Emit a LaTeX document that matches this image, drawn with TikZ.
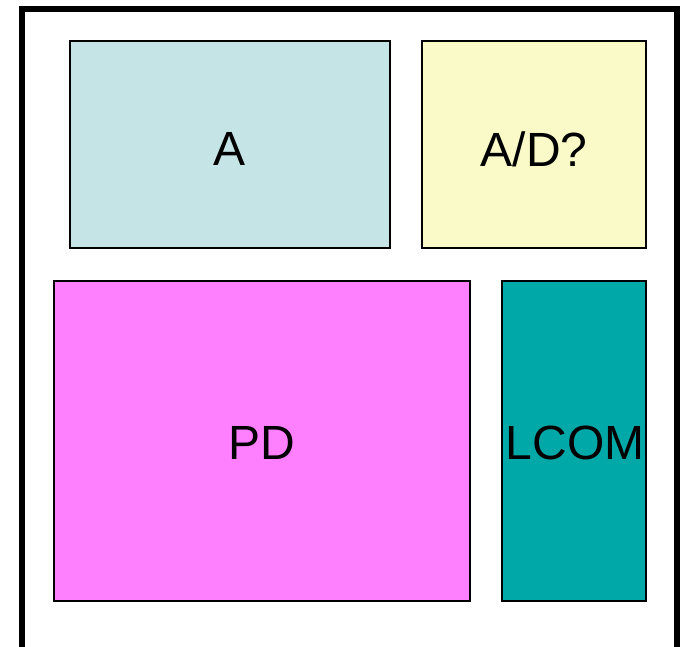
\documentclass[tikz,border=0pt]{standalone}
\usepackage{fontspec}
\setmainfont{Liberation Sans}
\definecolor{cA}{HTML}{C4E4E6}
\definecolor{cAD}{HTML}{FAFAC8}
\definecolor{cPD}{HTML}{FF80FF}
\definecolor{cLC}{HTML}{00A8A8}
\begin{document}
\begin{tikzpicture}[x=1pt,y=-1pt,
  blk/.style={draw=black,line width=2pt},
  lbl/.style={inner sep=0pt,font=\fontsize{48}{52}\selectfont}]
\useasboundingbox (0,0) rectangle (689,647);
\begin{scope}
\clip (0,0) rectangle (689,647);
\draw[line width=6pt] (22,9) rectangle (677,649.5);
\end{scope}
\draw[blk,fill=cA] (70,41) rectangle (390,248);
\node[lbl] (a) at (230,149) {A};
\draw[blk,fill=cAD] (422,41) rectangle (646,248);
\node[lbl] (ad) at (534,149) {A/D?};
\draw[blk,fill=cPD] (54,281) rectangle (470,601);
\node[lbl] (pd) at (262,443) {PD};
\draw[blk,fill=cLC] (502,281) rectangle (646,601);
\node[lbl] (lcom) at (575,443) {LCOM};
\end{tikzpicture}
\end{document}
